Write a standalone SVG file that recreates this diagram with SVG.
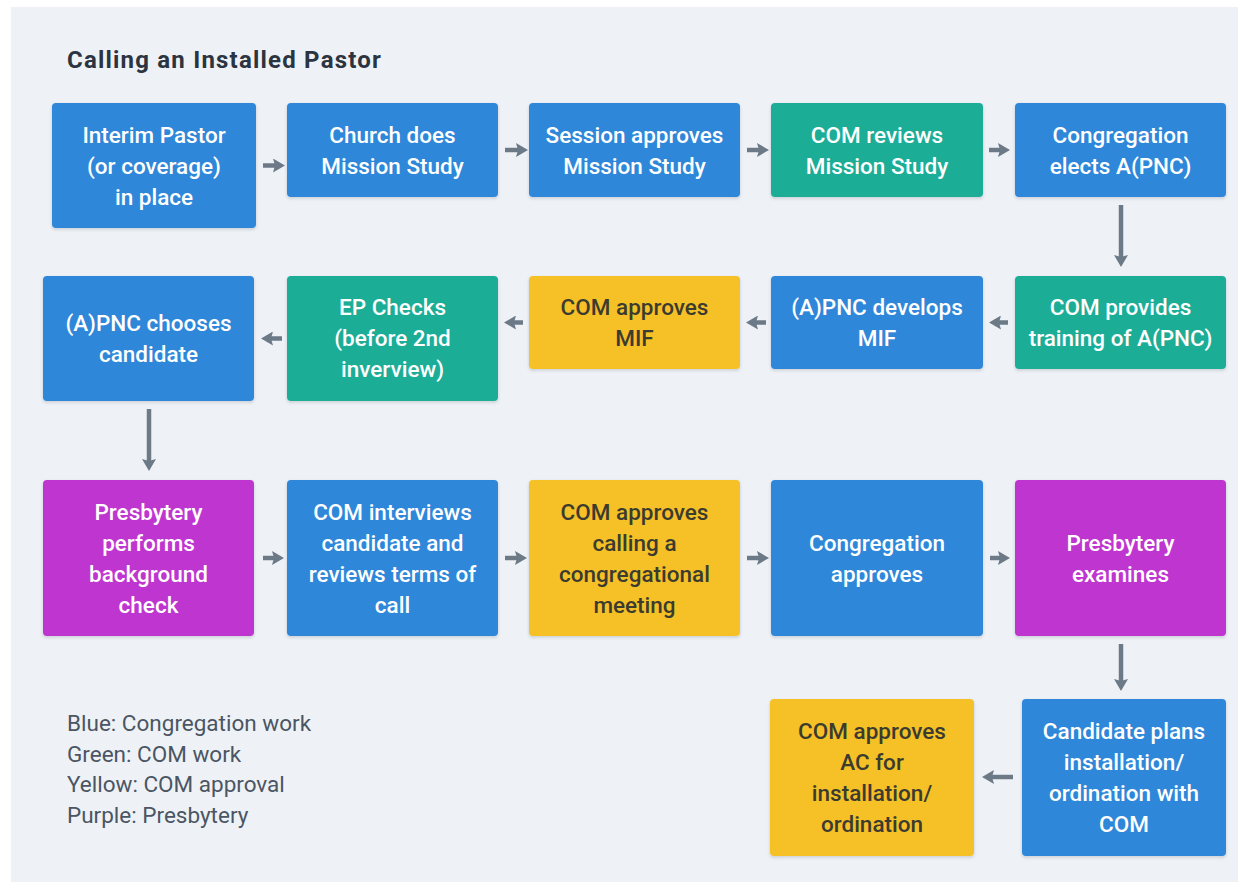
<svg xmlns="http://www.w3.org/2000/svg" width="1248" height="882" viewBox="0 0 1248 882">
  <style>
    .node rect { rx: 4px; ry: 4px; filter: url(#shadow); }
    .blue rect { fill: #2d87d9; }
    .teal rect { fill: #1bad97; }
    .yellow rect { fill: #f6c126; }
    .purple rect { fill: #bf35cf; }
    .node text { font-family: Roboto, "Liberation Sans", sans-serif; font-size: 22.5px; font-weight: 500; text-anchor: middle; fill: #ffffff; }
    .yellow text { fill: #3c3b30; }
    .title { font-family: Roboto, "Liberation Sans", sans-serif; font-size: 24px; font-weight: 700; letter-spacing: 1.2px; fill: #2b3440; }
    .legend { font-family: Roboto, "Liberation Sans", sans-serif; font-size: 22.5px; font-weight: 400; fill: #4b5563; }
    #connectors line { stroke: #6c7987; stroke-width: 4.5; marker-end: url(#head); }
  </style>
  <defs>
    <filter id="shadow" x="-10%" y="-10%" width="120%" height="130%">
      <feDropShadow dx="0" dy="1.5" stdDeviation="1.5" flood-color="#1f2d3d" flood-opacity="0.18"/>
    </filter>
    <marker id="head" markerUnits="userSpaceOnUse" markerWidth="12" markerHeight="14" viewBox="0 0 12 14" refX="5" refY="7" orient="auto">
      <path d="M0,0 L12,7 L0,14 L2,7 Z" fill="#6c7987"/>
    </marker>
  </defs>

  <!-- canvas -->
  <rect x="0" y="0" width="1248" height="882" fill="#ffffff"/>
  <rect x="11" y="7" width="1227" height="875" fill="#eef2f6"/>

  <text class="title" x="67" y="68">Calling an Installed Pastor</text>

  <!-- row 1 -->
  <g id="n1" class="node blue">
    <rect x="52" y="103" width="204" height="125"/>
    <text x="154" y="143">Interim Pastor</text>
    <text x="154" y="174">(or coverage)</text>
    <text x="154" y="205">in place</text>
  </g>
  <g id="n2" class="node blue">
    <rect x="287" y="103" width="211" height="94"/>
    <text x="392.5" y="143">Church does</text>
    <text x="392.5" y="174">Mission Study</text>
  </g>
  <g id="n3" class="node blue">
    <rect x="529" y="103" width="211" height="94"/>
    <text x="634.5" y="143">Session approves</text>
    <text x="634.5" y="174">Mission Study</text>
  </g>
  <g id="n4" class="node teal">
    <rect x="771" y="103" width="212" height="94"/>
    <text x="877" y="143">COM reviews</text>
    <text x="877" y="174">Mission Study</text>
  </g>
  <g id="n5" class="node blue">
    <rect x="1015" y="103" width="211" height="94"/>
    <text x="1120.5" y="143">Congregation</text>
    <text x="1120.5" y="174">elects A(PNC)</text>
  </g>

  <!-- row 2 -->
  <g id="n6" class="node teal">
    <rect x="1015" y="276" width="211" height="93"/>
    <text x="1120.5" y="315">COM provides</text>
    <text x="1120.5" y="346">training of A(PNC)</text>
  </g>
  <g id="n7" class="node blue">
    <rect x="771" y="276" width="212" height="93"/>
    <text x="877" y="315">(A)PNC develops</text>
    <text x="877" y="346">MIF</text>
  </g>
  <g id="n8" class="node yellow">
    <rect x="529" y="276" width="211" height="93"/>
    <text x="634.5" y="315">COM approves</text>
    <text x="634.5" y="346">MIF</text>
  </g>
  <g id="n9" class="node teal">
    <rect x="287" y="276" width="211" height="125"/>
    <text x="392.5" y="315">EP Checks</text>
    <text x="392.5" y="346">(before 2nd</text>
    <text x="392.5" y="377">inverview)</text>
  </g>
  <g id="n10" class="node blue">
    <rect x="43" y="276" width="211" height="125"/>
    <text x="148.5" y="331">(A)PNC chooses</text>
    <text x="148.5" y="362">candidate</text>
  </g>

  <!-- row 3 -->
  <g id="n11" class="node purple">
    <rect x="43" y="480" width="211" height="156"/>
    <text x="148.5" y="520">Presbytery</text>
    <text x="148.5" y="551">performs</text>
    <text x="148.5" y="582">background</text>
    <text x="148.5" y="613">check</text>
  </g>
  <g id="n12" class="node blue">
    <rect x="287" y="480" width="211" height="156"/>
    <text x="392.5" y="520">COM interviews</text>
    <text x="392.5" y="551">candidate and</text>
    <text x="392.5" y="582">reviews terms of</text>
    <text x="392.5" y="613">call</text>
  </g>
  <g id="n13" class="node yellow">
    <rect x="529" y="480" width="211" height="156"/>
    <text x="634.5" y="520">COM approves</text>
    <text x="634.5" y="551">calling a</text>
    <text x="634.5" y="582">congregational</text>
    <text x="634.5" y="613">meeting</text>
  </g>
  <g id="n14" class="node blue">
    <rect x="771" y="480" width="212" height="156"/>
    <text x="877" y="551">Congregation</text>
    <text x="877" y="582">approves</text>
  </g>
  <g id="n15" class="node purple">
    <rect x="1015" y="480" width="211" height="156"/>
    <text x="1120.5" y="551">Presbytery</text>
    <text x="1120.5" y="582">examines</text>
  </g>

  <!-- row 4 -->
  <g id="n16" class="node blue">
    <rect x="1022" y="699" width="204" height="157"/>
    <text x="1124" y="739">Candidate plans</text>
    <text x="1124" y="770">installation/</text>
    <text x="1124" y="801">ordination with</text>
    <text x="1124" y="832">COM</text>
  </g>
  <g id="n17" class="node yellow">
    <rect x="770" y="699" width="204" height="157"/>
    <text x="872" y="739">COM approves</text>
    <text x="872" y="770">AC for</text>
    <text x="872" y="801">installation/</text>
    <text x="872" y="832">ordination</text>
  </g>

  <!-- flow connectors -->
  <g id="connectors">
    <line x1="263" y1="165.5" x2="278" y2="165.5"/>
    <line x1="505" y1="150" x2="521" y2="150"/>
    <line x1="747" y1="150" x2="762" y2="150"/>
    <line x1="989" y1="150" x2="1003" y2="150"/>
    <line x1="1121" y1="205" x2="1121" y2="260"/>
    <line x1="1008" y1="322.5" x2="996" y2="322.5"/>
    <line x1="766" y1="322.5" x2="753" y2="322.5"/>
    <line x1="523" y1="322.5" x2="511" y2="322.5"/>
    <line x1="282" y1="338.5" x2="268" y2="338.5"/>
    <line x1="149" y1="409" x2="149" y2="464"/>
    <line x1="263" y1="558" x2="277" y2="558"/>
    <line x1="505" y1="558" x2="520" y2="558"/>
    <line x1="747" y1="558" x2="762" y2="558"/>
    <line x1="990" y1="558" x2="1003" y2="558"/>
    <line x1="1121" y1="644" x2="1121" y2="684"/>
    <line x1="1013" y1="777" x2="989" y2="777"/>
  </g>

  <!-- colour key -->
  <g id="legend">
    <text class="legend" x="67" y="731">Blue: Congregation work</text>
    <text class="legend" x="67" y="762">Green: COM work</text>
    <text class="legend" x="67" y="792">Yellow: COM approval</text>
    <text class="legend" x="67" y="823">Purple: Presbytery</text>
  </g>
</svg>
